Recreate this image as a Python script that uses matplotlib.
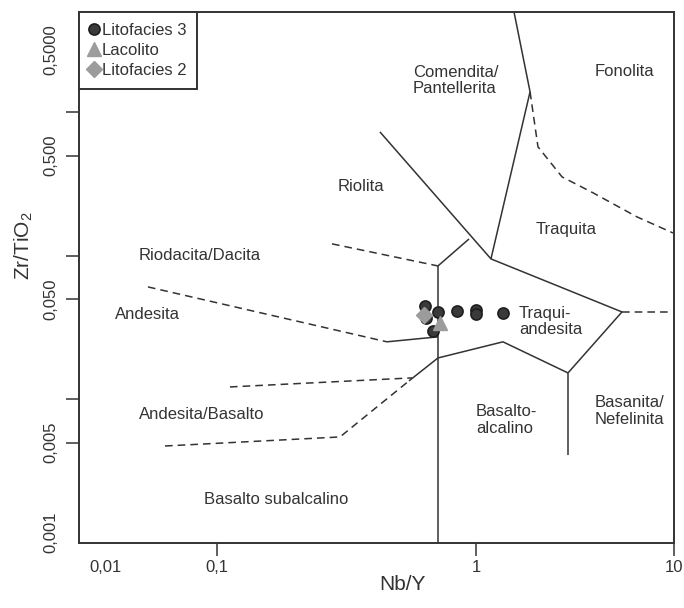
import numpy as np
import matplotlib
matplotlib.use("Agg")
import matplotlib.pyplot as plt
from matplotlib.ticker import FixedLocator, FixedFormatter, NullLocator
from matplotlib.transforms import ScaledTranslation

plt.rcParams['font.family'] = ['Liberation Sans', 'DejaVu Sans']
plt.rcParams['mathtext.fontset'] = 'custom'
plt.rcParams['mathtext.rm'] = 'Liberation Sans'
plt.rcParams['mathtext.default'] = 'regular'

INK = '#333333'

# --- samples (Nb/Y, Zr/TiO2) ---
lito3_x = [0.635, 0.641, 0.713, 0.682, 0.845, 1.0, 1.0, 1.37]
lito3_y = [0.0449, 0.0370, 0.0407, 0.0300, 0.0414, 0.0421, 0.0395, 0.0401]
lacolito_x = [0.726]
lacolito_y = [0.0341]
lito2_x = [0.630]
lito2_y = [0.0388]

# --- field boundaries (solid) ---
solid_lines = [
    ([1.556, 1.875, 1.19, 5.46, 2.915, 2.915], [5.0, 1.39, 0.0953, 0.0407, 0.0153, 0.0041]),
    ([0.4256, 1.19], [0.731, 0.0953]),
    ([0.713, 0.940], [0.0851, 0.1312]),
    ([0.713, 0.713], [0.0851, 0.001]),
    ([0.713, 1.368, 2.915], [0.01945, 0.0252, 0.0153]),
    ([0.453, 0.713], [0.0252, 0.0273]),
    ([0.551, 0.713], [0.01346, 0.01945]),
]
# --- field boundaries (dashed) ---
dashed_lines = [
    ([1.875, 2.056, 2.72, 3.90, 6.50, 9.88], [1.39, 0.575, 0.355, 0.275, 0.187, 0.1445]),
    ([5.46, 9.55], [0.0407, 0.0407]),
    ([0.278, 0.713], [0.1213, 0.0851]),
    ([0.0316, 0.453], [0.0608, 0.0252]),
    ([0.1122, 0.566], [0.01222, 0.01413]),
    ([0.0420, 0.2985, 0.551], [0.00474, 0.00548, 0.01346]),
]

# --- field names ---
fields = [
    ("Comendita/\nPantellerita", 0.571, 1.66, 'left'),
    ("Fonolita", 5.59, 1.92, 'center'),
    ("Riolita", 0.360, 0.303, 'center'),
    ("Traquita", 2.85, 0.152, 'center'),
    ("Riodacita/Dacita", 0.0754, 0.100, 'center'),
    ("Andesita", 0.0311, 0.0388, 'center'),
    ("Traqui-\nandesita", 1.65, 0.0347, 'left'),
    ("Andesita/Basalto", 0.0778, 0.0078, 'center'),
    ("Basalto-\nalcalino", 1.0, 0.0072, 'left'),
    ("Basanita/\nNefelinita", 3.99, 0.0083, 'left'),
    ("Basalto subalcalino", 0.169, 0.0020, 'center'),
]

x_ticks = [0.01, 0.1, 1, 10]
x_labels = ['0,01', '0,1', '1', '10']
y_ticks = [0.001, 0.005, 0.01, 0.05, 0.1, 0.5, 1, 2.73]
y_labels = ['0,001', '0,005', '', '0,050', '', '0,500', '', '0,5000']

# the printed x axis is not evenly spaced per decade
XLOG = [-3, -2, -1, 0, 1, 2]
XPOS = [-138, 0, 138, 397, 595, 793]


def fwd_x(v):
    v = np.clip(np.asarray(v, dtype=float), 1e-300, None)
    return np.interp(np.log10(v), XLOG, XPOS)


def inv_x(p):
    return 10 ** np.interp(p, XPOS, XLOG)


fig = plt.figure(figsize=(6.84, 6.08), dpi=100)
ax = fig.add_axes([79 / 684, 1 - 543 / 608, 595 / 684, 531 / 608])
ax.set_xscale('function', functions=(fwd_x, inv_x))
ax.set_yscale('log')
ax.set_xlim(0.01, 10)
ax.set_ylim(0.001, 5)

for xs, ys in solid_lines:
    ax.plot(xs, ys, color=INK, lw=1.1, solid_capstyle='butt')
for xs, ys in dashed_lines:
    ax.plot(xs, ys, color=INK, lw=1.1, linestyle=(0, (5, 3.3)))

for txt, x, y, ha in fields:
    ax.text(x, y, txt, ha=ha, va='center', fontsize=12, color=INK, linespacing=1.1)

ax.plot(lito3_x, lito3_y, 'o', ls='none', ms=8, mfc='#3a3a3a', mec='#1e1e1e', mew=1.2,
        label='Litofacies 3', zorder=5)
ax.plot(lacolito_x, lacolito_y, '^', ls='none', ms=10, mfc='#9c9c9c', mec='#9c9c9c',
        label='Lacolito', zorder=6)
ax.plot(lito2_x, lito2_y, 'D', ls='none', ms=8, mfc='#9c9c9c', mec='#9c9c9c',
        label='Litofacies 2', zorder=6)

ax.xaxis.set_major_locator(FixedLocator(x_ticks))
ax.xaxis.set_major_formatter(FixedFormatter(x_labels))
ax.xaxis.set_minor_locator(NullLocator())
ax.yaxis.set_major_locator(FixedLocator(y_ticks))
ax.yaxis.set_major_formatter(FixedFormatter(y_labels))
ax.yaxis.set_minor_locator(NullLocator())
ax.tick_params(direction='out', length=9.5, width=1.1, color=INK, labelcolor=INK,
               labelsize=12)
ax.tick_params(axis='x', pad=3)
ax.tick_params(axis='y', pad=5)
for lab in ax.get_yticklabels():
    lab.set_rotation(90)
    lab.set_va('center')

for sp in ax.spines.values():
    sp.set_color(INK)
    sp.set_linewidth(1.4)

xt = ax.xaxis.get_major_ticks()
yt = ax.yaxis.get_major_ticks()
xt[0].tick1line.set_visible(False)
yt[0].tick1line.set_visible(False)
yt[-1].tick1line.set_visible(False)
xt[0].label1.set_transform(xt[0].label1.get_transform() +
                           ScaledTranslation(0.26, 0, fig.dpi_scale_trans))
yt[0].label1.set_transform(yt[0].label1.get_transform() +
                           ScaledTranslation(0, 0.11, fig.dpi_scale_trans))

ax.set_xlabel('Nb/Y', fontsize=15, color=INK, va='center')
ax.xaxis.set_label_coords((402 - 79) / 595, (543 - 585) / 531)
ax.set_ylabel('Zr/TiO$_2$', fontsize=15, color=INK, va='center')
ax.yaxis.set_label_coords((24 - 79) / 595, (543 - 246) / 531)

leg = ax.legend(loc='upper left', borderaxespad=0, fancybox=False, framealpha=1,
                edgecolor=INK, fontsize=12, handlelength=0.5, handletextpad=0.2,
                labelspacing=0.3, borderpad=0.65, labelcolor=INK)
leg.get_frame().set_linewidth(1.4)

fig.savefig('out.png', dpi=100)
